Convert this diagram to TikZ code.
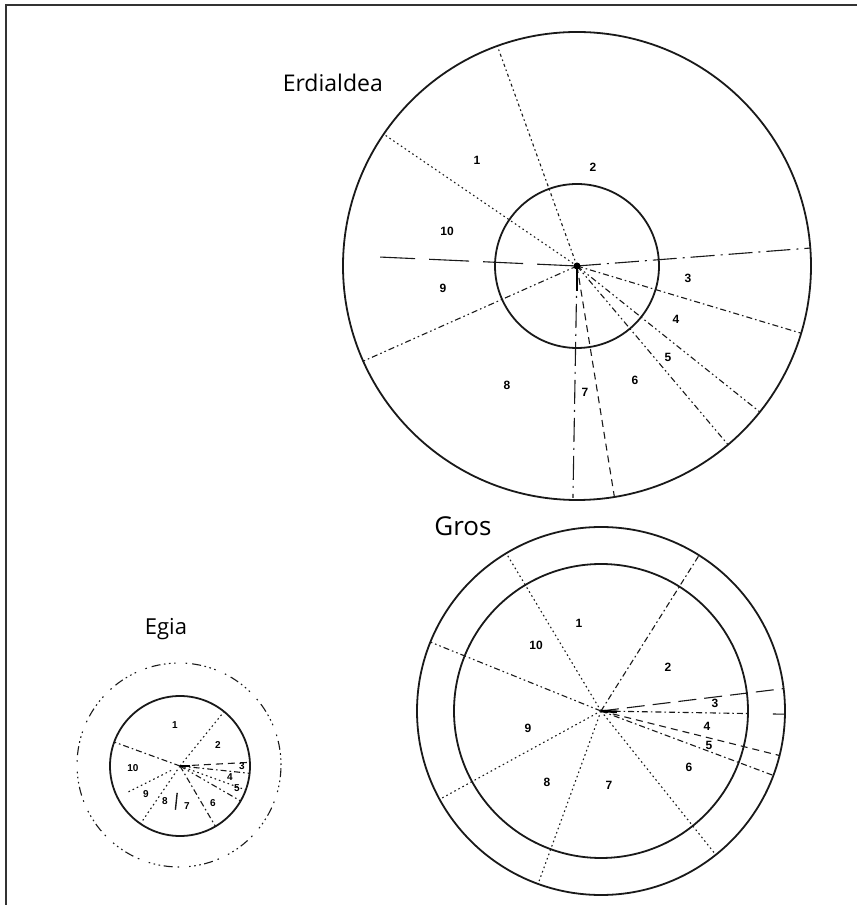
\documentclass[tikz,border=0pt]{standalone}
\usepackage{fontspec}
\newfontfamily\titlefont{Open Sans}
\newfontfamily\numfont{Liberation Sans}
\usepackage{tikz}
\usetikzlibrary{calc}

\begin{document}
\begin{tikzpicture}[x=1pt, y=1pt,
  rim/.style={line width=1.8pt, black!90},
  spoke/.style={line width=1.1pt, black!90},
  dots/.style={spoke, dash pattern=on 1.6pt off 3pt},
  dashes/.style={spoke, dash pattern=on 7pt off 5pt},
  longdash/.style={spoke, dash pattern=on 40pt off 14pt},
  longdashdot/.style={spoke, dash pattern=on 24pt off 6pt on 2pt off 6pt},
  dashdot/.style={spoke, dash pattern=on 6pt off 3pt on 1.6pt off 3pt},
  dashdotdot/.style={spoke, dash pattern=on 6pt off 3pt on 1.6pt off 3pt on 1.6pt off 3pt},
  num/.style={font=\numfont\bfseries\fontsize{12}{12}\selectfont, inner sep=0pt},
  title/.style={font=\titlefont\fontsize{23}{23}\selectfont, inner sep=0pt}]
\useasboundingbox (0,0) rectangle (857,905);
\draw[line width=1.5pt, black!80] (6,0) -- (6,900) -- (857,900);

% Erdialdea
\coordinate (ec) at (577,639);
\draw[rim] (ec) circle (234);
\draw[rim] (ec) circle (82);
\node[title, anchor=base east] (erdialdea) at (383,813) {Erdialdea};
\draw[longdash] (ec) -- ++(177.4:197);
\draw[longdashdot] (ec) -- ++(4.4:234);
\draw[dots] (ec) -- ++(145.7:234);
\draw[dashdot, dash pattern=on 3pt off 3pt on 1.6pt off 3pt] (ec) -- ++(109.9:234);
\draw[dashdotdot] (ec) -- ++(204:234);
\draw[dashdot] (ec) -- ++(-16.7:234);
\draw[dashdotdot] (ec) -- ++(-38.6:234);
\draw[dashdotdot] (ec) -- ++(-49.8:234);
\draw[dashes] (ec) -- ++(-80.8:234);
\draw[longdashdot] (ec) -- ++(-91:232);
\draw[line width=1.6pt] (ec) -- ++(0,-25);
\fill (ec) circle (3.5);
\foreach \n/\dx/\dy in {1/-100/106, 2/16/99, 3/111/-12, 4/99/-53, 5/91/-91,
  6/58/-114, 7/8/-126, 8/-70/-119, 9/-134/-22, 10/-130/35}
  \node[num] (e\n) at ($(ec)+(\dx,\dy)$) {\n};

% Gros
\coordinate (gc) at (601,194);
\draw[rim] (gc) circle (184);
\draw[rim] (gc) circle (147);
\node[title, font=\titlefont\fontsize{26}{26}\selectfont] (gros) at (463,379) {Gros};
\draw[dots] (gc) -- ++(121:184);
\draw[dashdot] (gc) -- ++(57.8:184);
\draw[dashdotdot] (gc) -- ++(158:184);
\draw[dots] (gc) -- ++(208.7:184);
\draw[dots] (gc) -- ++(250:184);
\draw[dots] (gc) -- ++(-51.4:184);
\draw[longdash, dash pattern=on 18pt off 8pt] (gc) -- ++(7:184);
\draw[dashdot] (gc) -- ++(-1:147);
\draw[spoke] ($(gc)+(-1:172)$) -- ($(gc)+(-1:184)$);
\draw[dashes] (gc) -- ++(-14:184);
\draw[dashdot] (gc) -- ++(-20.5:184);
\draw[line width=2.5pt] (gc) -- ++(-3:16);
\foreach \n/\dx/\dy in {1/-22/88, 2/67/44, 3/114/8, 4/106/-15, 5/108/-34,
  6/88/-56, 7/8/-74, 8/-54/-71, 9/-73/-17, 10/-65/66}
  \node[num] (g\n) at ($(gc)+(\dx,\dy)$) {\n};

% Egia
\coordinate (kc) at (180,139);
\draw[rim] (kc) circle (70);
\draw[spoke, dash pattern=on 1.6pt off 3.5pt on 1.6pt off 3.5pt on 1.6pt off 3.5pt on 9pt off 5pt on 1.6pt off 10pt]
  (179,140) circle (102);
\node[title, font=\titlefont\fontsize{22}{22}\selectfont] (egia) at (166,276) {Egia};
\draw[dots] (kc) -- ++(51:70);
\draw[dashdot] (kc) -- ++(160:70);
\draw[dots] ($(kc)+(206.6:10)$) -- ++(206.6:50);
\draw[dots] (kc) -- ++(235.6:70);
\draw[dashdot] (kc) -- ++(-59.6:70);
\draw[spoke, line width=1.4pt] ($(kc)+(-96:27)$) -- ($(kc)+(-96:44)$);
\draw[dashes] (kc) -- ++(3:70);
\draw[dashdot] (kc) -- ++(-6:70);
\draw[dots] (kc) -- ++(-20:70);
\draw[dashdotdot] (kc) -- ++(-30:70);
\draw[line width=2.5pt] (kc) -- ++(0:10);
\foreach \n/\dx/\dy in {1/-5/41, 2/38/21, 3/62/0, 4/50/-11, 5/57/-22,
  6/33/-37, 7/7/-40, 8/-15/-35, 9/-34/-28, 10/-47/-2}
  \node[num, font=\numfont\bfseries\fontsize{10}{10}\selectfont] (k\n) at ($(kc)+(\dx,\dy)$) {\n};
\end{tikzpicture}
\end{document}
